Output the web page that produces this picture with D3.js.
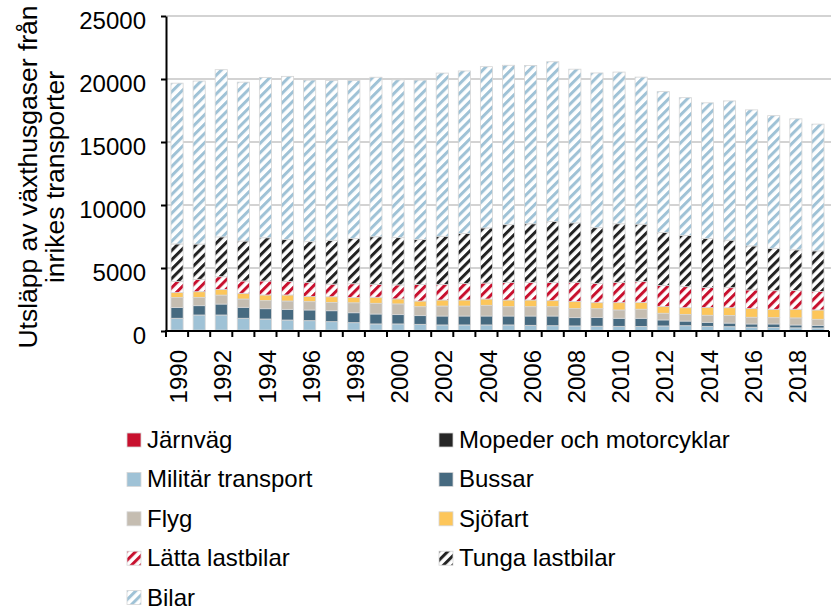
<!DOCTYPE html>
<html><head><meta charset="utf-8">
<script src="https://cdn.jsdelivr.net/npm/d3@7"></script>
<style>
html,body{margin:0;padding:0;background:#fff;}
svg{display:block;font-family:"Liberation Sans",Arial,sans-serif;}
</style></head>
<body>
<svg id="chart" width="831" height="610"></svg>
<script>
const years = d3.range(1990, 2020);
const tickLabels = [1990,1992,1994,1996,1998,2000,2002,2004,2006,2008,2010,2012,2014,2016,2018];
const yTicks = [0,5000,10000,15000,20000,25000];

const jarnvag = [40,40,40,40,40,40,40,40,40,40,30,30,30,30,30,30,30,30,30,30,20,20,20,20,20,20,20,20,20,20];
const mopeder = [30,30,30,30,30,30,30,30,30,30,30,30,30,30,30,30,30,30,30,30,30,30,30,30,30,30,30,30,30,30];
const militar = [940,1200,1200,940,880,800,750,670,590,490,500,470,420,420,420,420,390,360,340,320,320,310,350,370,320,290,250,230,200,190];
const bussar  = [850,740,870,870,820,850,850,870,790,790,740,690,710,710,710,710,740,770,660,700,640,650,480,370,320,290,260,280,230,210];
const flyg    = [790,660,710,660,640,660,660,660,790,850,850,710,790,790,850,740,740,740,720,690,660,720,530,530,560,610,530,500,560,480];
const sjofart = [400,450,450,450,450,480,400,450,420,480,400,450,480,480,500,530,530,480,560,480,580,530,530,530,610,610,690,660,690,740];
const latta   = [870,980,1010,980,1110,1060,1110,1000,1090,1030,1110,1320,1240,1300,1270,1380,1400,1450,1530,1530,1610,1670,1670,1670,1590,1590,1480,1480,1480,1460];
const tunga   = [2990,2800,3160,3170,3430,3350,3250,3480,3590,3770,3750,3560,3820,3980,4370,4600,4650,4840,4710,4420,4650,4550,4210,4060,3900,3770,3490,3360,3230,3230];
const bilar   = [12760,12940,13270,12610,12730,12940,12820,12690,12540,12660,12520,12650,12950,12900,12800,12650,12570,12670,12200,12280,12040,11670,11180,10940,10760,11050,10800,10530,10400,10060];

const seriesNames = ["Järnväg","Mopeder och motorcyklar","Militär transport","Bussar","Flyg","Sjöfart","Lätta lastbilar","Tunga lastbilar","Bilar"];
const seriesValues = [jarnvag,mopeder,militar,bussar,flyg,sjofart,latta,tunga,bilar];
const seriesColors = ["#c8102e","#262626","#9fc2d6","#466a80","#c5bdb1","#fdc65a","#c8102e","#222222","#9fc2d6"];
const seriesHatched = [false,false,false,false,false,false,true,true,true];

const yTitle = ["Utsläpp av växthusgaser från","inrikes transporter"];

const table = years.map((yr,i)=>{
  const o = {year: yr};
  seriesNames.forEach((n,k)=>{ o[n] = seriesValues[k][i]; });
  return o;
});

const svg = d3.select("#chart");
const FS = 24;
const FT = 26.5;
const m = {left:166, right:829, top:16, bottom:331};

const x = d3.scaleBand().domain(years).range([m.left, m.right]).paddingInner(0.45).paddingOuter(0.225);
const y = d3.scaleLinear().domain([0,25000]).range([m.bottom, m.top]);

// patterns
const defs = svg.append("defs");
seriesNames.forEach((n,k)=>{
  if(!seriesHatched[k]) return;
  const p = defs.append("pattern").attr("id","hatch"+k)
    .attr("patternUnits","userSpaceOnUse").attr("width",6.6).attr("height",6.6)
    .attr("patternTransform","rotate(45)");
  p.append("rect").attr("width",6.6).attr("height",6.6).attr("fill","#fff");
  p.append("rect").attr("x",0).attr("width",3.0).attr("height",6.6).attr("fill",seriesColors[k]);
});
const fillFor = k => seriesHatched[k] ? `url(#hatch${k})` : seriesColors[k];

// gridlines
svg.append("g").selectAll("line").data(yTicks.filter(t=>t>0)).join("line")
  .attr("x1",m.left).attr("x2",831)
  .attr("y1",d=>y(d)).attr("y2",d=>y(d))
  .attr("stroke","#c4c4c4").attr("stroke-width",1.6);

// stacked bars
const stack = d3.stack().keys(seriesNames)(table);
const gBars = svg.append("g");
stack.forEach((layer,k)=>{
  gBars.append("g").selectAll("rect").data(layer).join("rect")
    .attr("x",d=>x(d.data.year))
    .attr("width",x.bandwidth())
    .attr("y",d=>y(d[1]))
    .attr("height",d=>Math.max(0,y(d[0])-y(d[1])))
    .attr("fill",fillFor(k))
    .attr("stroke",k<2?"none":"#d6d6d6").attr("stroke-width",0.8);
});

// y axis
const yAxis = svg.append("g").attr("transform",`translate(${m.left},0)`)
  .call(d3.axisLeft(y).tickValues(yTicks).tickSize(5).tickPadding(15).tickFormat(d3.format("d")).tickSizeOuter(0));
yAxis.select(".domain").attr("stroke","#000").attr("stroke-width",2);
yAxis.selectAll(".tick line").attr("stroke","#000").attr("stroke-width",2);
yAxis.selectAll("text").attr("font-size",FS).attr("fill","#000").attr("dy","0.52em")
  .attr("font-family","'Liberation Sans',Arial,sans-serif");

// x axis: ticks at band boundaries
const step = x.step();
const x0 = x.range()[0];
const boundaries = d3.range(years.length+1).map(i=>x0 + i*step);
const xAxis = svg.append("g");
xAxis.append("line").attr("x1",m.left-1).attr("x2",m.right).attr("y1",m.bottom).attr("y2",m.bottom)
  .attr("stroke","#000").attr("stroke-width",2);
xAxis.selectAll("line.tk").data(boundaries).join("line").attr("class","tk")
  .attr("x1",d=>d).attr("x2",d=>d).attr("y1",m.bottom).attr("y2",m.bottom+6)
  .attr("stroke","#000").attr("stroke-width",2);
xAxis.selectAll("text").data(tickLabels).join("text")
  .attr("transform",d=>`translate(${x(d)+x.bandwidth()/2},${m.bottom+19}) rotate(-90)`)
  .attr("text-anchor","end").attr("dy","0.42em")
  .attr("font-size",FS).attr("fill","#000").text(d=>d);

// y title
const tg = svg.append("g").attr("transform",`translate(0,177) rotate(-90)`);
tg.selectAll("text").data(yTitle).join("text")
  .attr("x",0).attr("y",(d,i)=>37+i*27)
  .attr("text-anchor","middle").attr("font-size",FT).attr("fill","#000").text(d=>d);

// legend
const legPos = [
  {col:0,row:0},{col:1,row:0},
  {col:0,row:1},{col:1,row:1},
  {col:0,row:2},{col:1,row:2},
  {col:0,row:3},{col:1,row:3},
  {col:0,row:4}
];
const colX = [127,439];
const rowY = d3.range(5).map(r=>440 + r*39.4);
const lg = svg.append("g");
seriesNames.forEach((n,k)=>{
  const p = legPos[k];
  const g = lg.append("g").attr("transform",`translate(${colX[p.col]},${rowY[p.row]})`);
  g.append("rect").attr("x",0).attr("y",-7).attr("width",14).attr("height",14)
    .attr("fill",fillFor(k)).attr("stroke","#d6d6d6").attr("stroke-width",0.8);
  g.append("text").attr("x",20).attr("y",0).attr("dy","0.33em")
    .attr("font-size",FS).attr("fill","#000").text(n);
});
</script>
</body></html>
